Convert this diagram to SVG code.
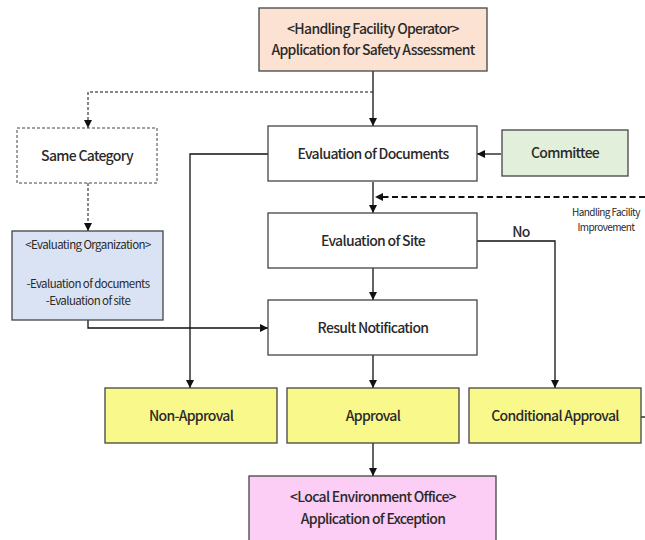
<svg xmlns="http://www.w3.org/2000/svg" width="645" height="540" viewBox="0 0 645 540">
<defs>
<marker id="arr" markerWidth="8" markerHeight="8" refX="8" refY="4" orient="auto" markerUnits="userSpaceOnUse"><path d="M0,0 L8,4 L0,8 Z" fill="#111"/></marker>
<style>
.box{stroke:#444;stroke-width:1.3}
.t{font-family:"Noto Sans CJK KR","Noto Sans",sans-serif;font-weight:500;fill:#2a2a2a;text-anchor:middle;letter-spacing:-0.7px}
.s{font-weight:400;letter-spacing:-0.6px}
.l{fill:none;stroke:#111;stroke-width:1.3}
.d{fill:none;stroke:#111;stroke-width:1;stroke-dasharray:3 2}
.dt{fill:none;stroke:#111;stroke-width:2;stroke-dasharray:6 3.5}
</style>
</defs>
<rect width="645" height="540" fill="#fff"/>
<g id="connectors">
<path class="l" d="M373,71 V126" marker-end="url(#arr)"/>
<path class="d" d="M373,92 H88 V128" marker-end="url(#arr)"/>
<path class="d" d="M88,183 V231" marker-end="url(#arr)"/>
<path class="l" d="M501,154 H477" marker-end="url(#arr)"/>
<path class="l" d="M268,154 H190 V388" marker-end="url(#arr)"/>
<path class="l" d="M373,182 V213" marker-end="url(#arr)"/>
<path class="dt" d="M645,197 H382"/>
<path d="M375,197 L383,193 L383,201 Z" fill="#111"/>
<path class="l" d="M477,241 H555 V388" marker-end="url(#arr)"/>
<path class="l" d="M373,268 V300" marker-end="url(#arr)"/>
<path class="l" d="M88,320 V328 H268" marker-end="url(#arr)"/>
<path class="l" d="M373,355 V388" marker-end="url(#arr)"/>
<path class="l" d="M373,443 V476" marker-end="url(#arr)"/>
<path class="l" d="M641,417 H645"/>
<text class="t" x="521" y="237" font-size="14">No</text>
<text class="t s" x="606" y="216" font-size="10">Handling Facility</text>
<text class="t s" x="606" y="231" font-size="10">Improvement</text>
</g>
<g id="operator">
<rect class="box" x="259" y="8" width="228" height="63" fill="#fbe2d3"/>
<text class="t" x="373" y="34" font-size="14">&lt;Handling Facility Operator&gt;</text>
<text class="t" x="373" y="55" font-size="14">Application for Safety Assessment</text>
</g>
<g id="same-category">
<rect x="17" y="128" width="140" height="55" fill="#fff" stroke="#444" stroke-width="1" stroke-dasharray="3 2"/>
<text class="t" x="87" y="161" font-size="14">Same Category</text>
</g>
<g id="eval-docs">
<rect class="box" x="268" y="126" width="209" height="55" fill="#fff"/>
<text class="t" x="373" y="159" font-size="14">Evaluation of Documents</text>
</g>
<g id="committee">
<rect class="box" x="502" y="130" width="126" height="46" fill="#e2efda"/>
<text class="t" x="565" y="158" font-size="14">Committee</text>
</g>
<g id="eval-site">
<rect class="box" x="268" y="213" width="209" height="55" fill="#fff"/>
<text class="t" x="373" y="246" font-size="14">Evaluation of Site</text>
</g>
<g id="eval-org">
<rect class="box" x="12" y="231" width="151" height="89" fill="#dae3f3"/>
<text class="t s" x="88" y="249" font-size="11.5">&lt;Evaluating Organization&gt;</text>
<text class="t s" x="88" y="288" font-size="11.5">-Evaluation  of documents</text>
<text class="t s" x="88" y="305" font-size="11.5">-Evaluation  of site</text>
</g>
<g id="result">
<rect class="box" x="268" y="300" width="209" height="55" fill="#fff"/>
<text class="t" x="373" y="333" font-size="14">Result Notification</text>
</g>
<g id="non-approval">
<rect class="box" x="105" y="388" width="172" height="55" fill="#f9f88a"/>
<text class="t" x="191" y="421" font-size="14">Non-Approval</text>
</g>
<g id="approval">
<rect class="box" x="287" y="388" width="172" height="55" fill="#f9f88a"/>
<text class="t" x="373" y="421" font-size="14">Approval</text>
</g>
<g id="conditional-approval">
<rect class="box" x="469" y="388" width="172" height="55" fill="#f9f88a"/>
<text class="t" x="555" y="421" font-size="14">Conditional Approval</text>
</g>
<g id="local-office">
<rect class="box" x="249" y="476" width="247" height="70" fill="#fccdf5"/>
<text class="t" x="373" y="502" font-size="14">&lt;Local Environment Office&gt;</text>
<text class="t" x="373" y="524" font-size="14">Application of Exception</text>
</g>
</svg>
